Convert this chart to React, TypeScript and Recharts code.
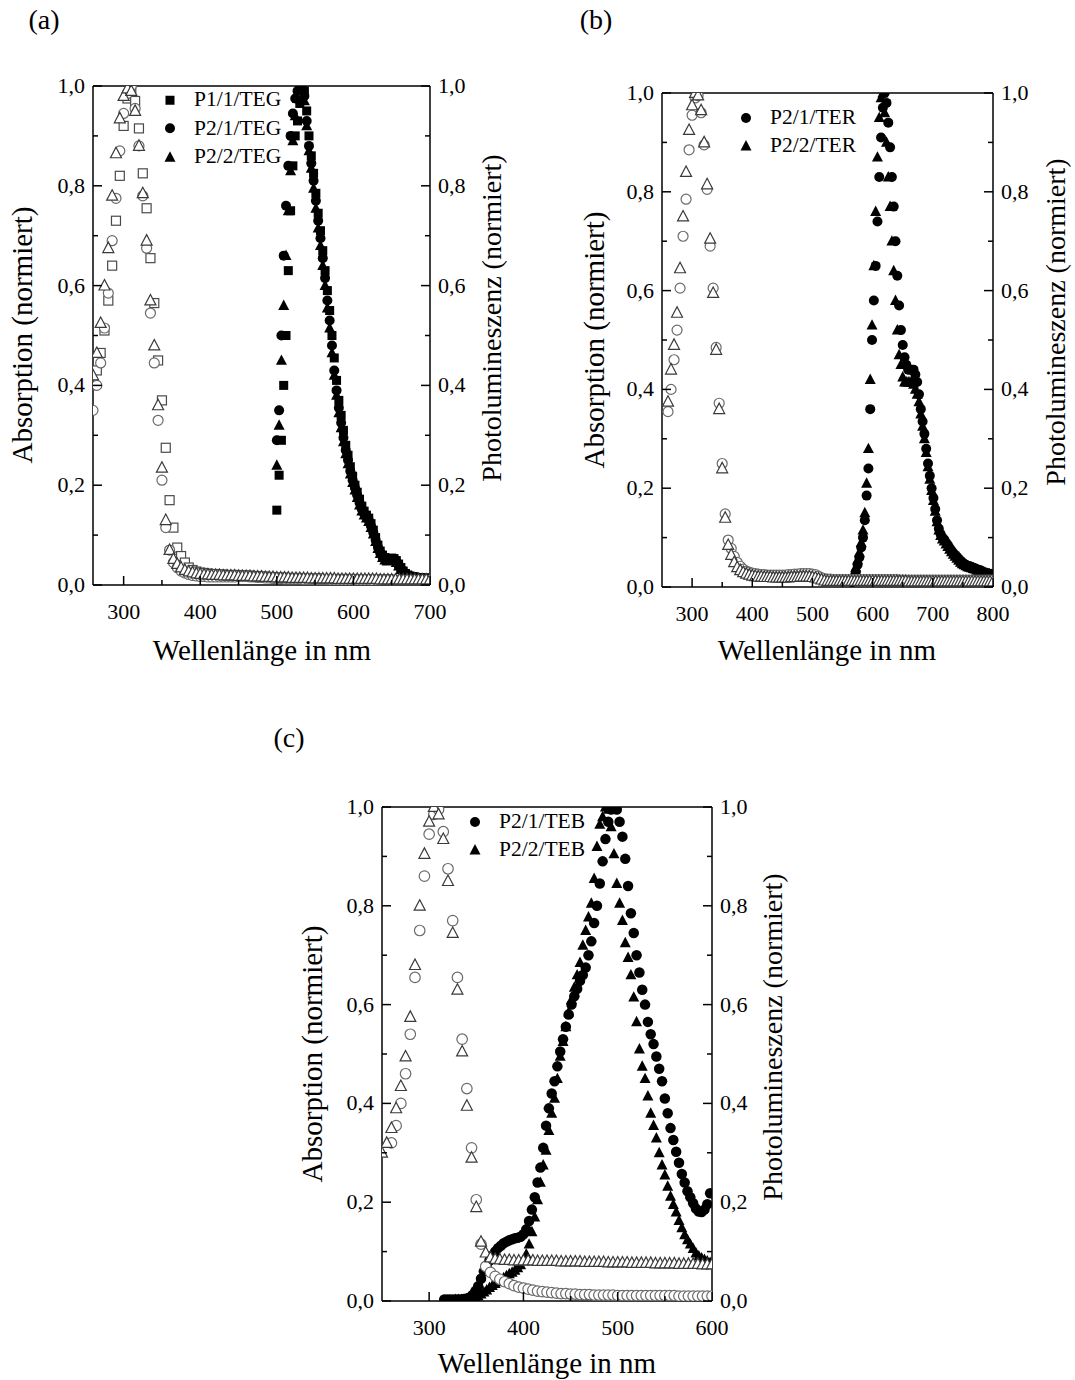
import React from 'react';
import { ScatterChart, Scatter, XAxis, YAxis, ReferenceLine, Legend } from 'recharts';

const SERIF = '"Liberation Serif", "Times New Roman", Times, serif';

// ---------------- DATA ----------------
const Y_TICKS = [0, 0.1, 0.2, 0.3, 0.4, 0.5, 0.6, 0.7, 0.8, 0.9, 1.0];
const A_X_TICKS = [300, 350, 400, 450, 500, 550, 600, 650, 700];
const B_X_TICKS = [300, 350, 400, 450, 500, 550, 600, 650, 700, 750, 800];
const C_X_TICKS = [300, 350, 400, 450, 500, 550, 600];

// Panel (a) absorption
const A_ABS_X = [260,265,270,275,280,285,290,295,300,305,310,315,320,325,330,335,340,345,350,355,360,365,370,375,380,385,390,395,400,405,410,415,420,425,430,435,440,445,450,455,460,465,470,475,480,485,490,495,500,505,510,515,520,525,530,535,540,545,550,555,560,565,570,575,580,585,590,595,600,605,610,615,620,625,630,635,640,645,650,655,660,665,670,675,680,685,690,695,700];
const A_ABS_P11 = [null,0.43,0.465,0.51,0.57,0.64,0.73,0.82,0.92,0.975,
0.995,0.97,0.915,0.825,0.755,0.655,0.565,0.45,0.37,0.275,
0.17,0.115,0.075,0.058,0.045,0.035,0.03,0.027,0.025,0.024,
0.023,0.022,0.022,0.021,0.021,0.02,0.02,0.02,0.02,0.019,
0.019,0.019,0.018,0.018,0.017,0.017,0.016,0.016,0.015,0.015,
0.015,0.014,0.014,0.014,0.014,0.013,0.013,0.013,0.013,0.013,
0.012,0.012,0.012,0.012,0.012,0.012,0.012,0.012,0.012,0.011,
0.011,0.011,0.011,0.011,0.011,0.011,0.011,0.011,0.011,0.01,
0.01,0.01,0.01,0.01,0.01,0.01,0.01,0.01,0.01];
const A_ABS_P21 = [0.35,0.40,0.445,0.515,0.585,0.69,0.775,0.87,0.945,0.985,
1.0,0.955,0.88,0.78,0.675,0.545,0.445,0.33,0.21,0.115,
0.07,0.045,0.035,0.028,0.024,0.021,0.019,0.018,0.017,0.017,
0.016,0.016,0.016,0.016,0.016,0.016,0.016,0.016,0.017,0.017,
0.017,0.016,0.016,0.015,0.015,0.014,0.014,0.013,0.013,0.013,
0.012,0.012,0.012,0.012,0.012,0.011,0.011,0.011,0.011,0.011,
0.011,0.011,0.01,0.01,0.01,0.01,0.01,0.01,0.01,0.01,
0.01,0.01,0.01,0.009,0.009,0.009,0.009,0.009,0.009,0.009,
0.009,0.009,0.009,0.009,0.009,0.009,0.009,0.009,0.009];
const A_ABS_P22 = [0.42,0.465,0.525,0.60,0.675,0.78,0.865,0.935,0.98,0.995,
0.99,0.95,0.88,0.785,0.69,0.57,0.48,0.36,0.235,0.13,
0.07,0.052,0.042,0.035,0.03,0.027,0.025,0.023,0.022,0.021,
0.021,0.02,0.02,0.02,0.019,0.019,0.019,0.019,0.018,0.018,
0.018,0.018,0.017,0.017,0.017,0.016,0.016,0.016,0.015,0.015,
0.015,0.015,0.014,0.014,0.014,0.014,0.014,0.013,0.013,0.013,
0.013,0.013,0.013,0.013,0.012,0.012,0.012,0.012,0.012,0.012,
0.012,0.012,0.012,0.012,0.012,0.011,0.011,0.011,0.011,0.011,
0.011,0.011,0.011,0.011,0.011,0.011,0.011,0.011,0.011];

// Panel (a) photoluminescence
const A_PL_X = [500,503,506,509,512,515,518,521,524,527,530,533,536,539,542,545,548,551,554,557,560,563,566,569,572,575,578,581,584,587,590,593,596,599,602,605,608,611,614,617,620,623,626,629,632,635,638,641,644,647,650,653,656,659,662,665,668,671,674,677,680,683,686,689,692,695,698];
const A_PL_P11 = [0.15,0.22,0.29,0.40,0.50,0.63,0.75,0.84,0.90,0.93,
0.965,1.0,0.99,0.95,0.90,0.86,0.825,0.785,0.745,0.71,
0.67,0.63,0.59,0.55,0.50,0.455,0.41,0.37,0.34,0.31,
0.28,0.26,0.237,0.218,0.2,0.186,0.172,0.158,0.148,0.14,
0.134,0.123,0.11,0.095,0.08,0.068,0.06,0.055,0.052,0.053,
0.054,0.053,0.049,0.042,0.035,0.028,0.023,0.02,0.018,0.017,
0.016,0.015,0.015,0.014,0.014,0.013,0.013];
const A_PL_P21 = [0.29,0.35,0.50,0.66,0.76,0.84,0.90,0.945,0.975,0.99,
1.0,0.99,0.98,0.93,0.88,0.845,0.81,0.77,0.73,0.695,
0.655,0.615,0.57,0.53,0.48,0.43,0.39,0.355,0.325,0.295,
0.27,0.25,0.228,0.21,0.195,0.18,0.165,0.152,0.143,0.137,
0.13,0.118,0.105,0.09,0.076,0.065,0.057,0.052,0.05,0.051,
0.052,0.051,0.047,0.04,0.033,0.027,0.022,0.019,0.017,0.016,
0.015,0.015,0.014,0.014,0.013,0.013,0.013];
const A_PL_P22 = [0.24,0.32,0.45,0.56,0.66,0.75,0.83,0.89,0.94,0.975,
0.995,1.0,0.97,0.92,0.87,0.835,0.795,0.755,0.715,0.68,
0.64,0.60,0.555,0.515,0.465,0.42,0.38,0.345,0.315,0.287,
0.263,0.243,0.222,0.205,0.19,0.175,0.16,0.148,0.14,0.134,
0.127,0.115,0.102,0.087,0.073,0.063,0.055,0.05,0.048,0.049,
0.05,0.049,0.045,0.038,0.031,0.025,0.021,0.018,0.016,0.015,
0.014,0.014,0.013,0.013,0.012,0.012,0.012];

// Panel (b) absorption
const B_ABS_X = [260,265,270,275,280,285,290,295,300,305,310,315,320,325,330,335,340,345,350,355,360,365,370,375,380,385,390,395,400,405,410,415,420,425,430,435,440,445,450,455,460,465,470,475,480,485,490,495,500,505,510,515,520,525,530,535,540,545,550,555,560,565,570,575,580,585,590,595,600,605,610,615,620,625,630,635,640,645,650,655,660,665,670,675,680,685,690,695,700,705,710,715,720,725,730,735,740,745,750,755,760,765,770,775,780,785,790,795,800];
const B_ABS_P21 = [0.355,0.40,0.46,0.52,0.605,0.71,0.785,0.885,0.955,0.99,
0.995,0.96,0.895,0.805,0.69,0.605,0.485,0.372,0.25,0.148,
0.095,0.078,0.062,0.05,0.042,0.036,0.032,0.03,0.028,0.027,
0.026,0.025,0.025,0.024,0.024,0.024,0.024,0.024,0.024,0.024,
0.025,0.025,0.026,0.026,0.027,0.027,0.027,0.027,0.026,0.025,
0.022,0.019,0.017,0.016,0.016,0.015,0.015,0.015,0.015,0.015,
0.015,0.015,0.015,0.015,0.015,0.015,0.015,0.015,0.015,0.015,
0.015,0.015,0.015,0.015,0.015,0.015,0.015,0.014,0.014,0.014,
0.014,0.014,0.014,0.014,0.014,0.014,0.014,0.014,0.014,0.014,
0.014,0.014,0.014,0.014,0.014,0.014,0.014,0.014,0.014,0.014,
0.014,0.014,0.014,0.014,0.014,0.014,0.014,0.014,0.014];
const B_ABS_P22 = [0.375,0.44,0.49,0.555,0.645,0.75,0.84,0.925,0.975,1.0,
0.995,0.965,0.90,0.815,0.705,0.595,0.48,0.36,0.24,0.14,
0.085,0.065,0.05,0.04,0.034,0.03,0.027,0.025,0.023,0.022,
0.021,0.021,0.02,0.02,0.02,0.019,0.019,0.019,0.019,0.019,
0.019,0.02,0.02,0.02,0.021,0.021,0.021,0.021,0.02,0.019,
0.017,0.015,0.013,0.012,0.012,0.012,0.012,0.012,0.012,0.012,
0.012,0.012,0.012,0.012,0.012,0.012,0.012,0.012,0.012,0.012,
0.012,0.012,0.012,0.012,0.012,0.012,0.012,0.012,0.012,0.012,
0.011,0.011,0.011,0.011,0.011,0.011,0.011,0.011,0.011,0.011,
0.011,0.011,0.011,0.011,0.011,0.011,0.011,0.011,0.011,0.011,
0.011,0.011,0.011,0.011,0.011,0.011,0.011,0.011,0.011];

// Panel (b) photoluminescence
const B_PL_X = [566,569,572,575,578,581,584,587,590,593,596,599,602,605,608,611,614,617,620,623,626,629,632,635,638,641,644,647,650,653,656,659,662,665,668,671,674,677,680,683,686,689,692,695,698,701,704,707,710,713,716,719,722,725,728,731,734,737,740,743,746,749,752,755,758,761,764,767,770,773,776,779,782,785,788,791,794,797,800];
const B_PL_P21 = [0.01,0.02,0.03,0.045,0.06,0.08,0.10,0.135,0.185,0.24,
0.36,0.50,0.58,0.65,0.74,0.83,0.91,0.97,1.0,0.98,
0.94,0.89,0.83,0.77,0.70,0.63,0.57,0.52,0.49,0.465,
0.45,0.44,0.44,0.44,0.44,0.43,0.415,0.39,0.36,0.335,
0.31,0.28,0.25,0.225,0.2,0.18,0.158,0.135,0.118,0.107,
0.1,0.096,0.09,0.085,0.079,0.074,0.069,0.065,0.061,0.057,
0.053,0.05,0.047,0.045,0.043,0.042,0.041,0.039,0.038,0.036,
0.035,0.034,0.032,0.03,0.029,0.028,0.027,0.026,0.025];
const B_PL_P22 = [0.015,0.025,0.04,0.055,0.07,0.09,0.115,0.15,0.21,0.28,
0.42,0.53,0.65,0.76,0.87,0.95,0.99,1.0,0.96,0.90,
0.83,0.77,0.70,0.64,0.58,0.52,0.47,0.45,0.425,0.415,
0.415,0.415,0.415,0.415,0.41,0.40,0.39,0.375,0.35,0.325,
0.30,0.272,0.243,0.218,0.195,0.175,0.153,0.132,0.115,0.104,
0.097,0.093,0.087,0.082,0.076,0.071,0.066,0.062,0.058,0.054,
0.05,0.047,0.045,0.043,0.041,0.04,0.039,0.037,0.036,0.034,
0.033,0.032,0.03,0.029,0.028,0.027,0.026,0.025,0.024];

// Panel (c) absorption
const C_ABS_X = [250,255,260,265,270,275,280,285,290,295,300,305,310,315,320,325,330,335,340,345,350,355,360,365,370,375,380,385,390,395,400,405,410,415,420,425,430,435,440,445,450,455,460,465,470,475,480,485,490,495,500,505,510,515,520,525,530,535,540,545,550,555,560,565,570,575,580,585,590,595,600];
const C_ABS_P21 = [null,null,0.32,0.355,0.40,0.46,0.54,0.655,0.75,0.86,
0.945,0.985,0.995,0.95,0.875,0.77,0.655,0.53,0.43,0.31,
0.205,0.115,0.07,0.058,0.05,0.044,0.039,0.035,0.031,0.028,
0.026,0.024,0.022,0.02,0.019,0.018,0.017,0.016,0.015,0.015,
0.014,0.014,0.013,0.013,0.013,0.012,0.012,0.012,0.012,0.012,
0.011,0.011,0.011,0.011,0.011,0.011,0.011,0.011,0.011,0.011,
0.011,0.011,0.011,0.01,0.01,0.01,0.01,0.01,0.01,0.01,
0.01];
const C_ABS_P22 = [0.30,0.32,0.35,0.39,0.435,0.495,0.575,0.68,0.80,0.905,
0.97,1.0,0.985,0.935,0.85,0.745,0.63,0.505,0.395,0.29,
0.19,0.12,0.098,0.088,0.085,0.084,0.083,0.083,0.082,0.082,
0.082,0.082,0.082,0.081,0.081,0.081,0.081,0.081,0.08,0.08,
0.08,0.08,0.08,0.079,0.079,0.079,0.079,0.079,0.078,0.078,
0.078,0.078,0.078,0.077,0.077,0.077,0.077,0.077,0.076,0.076,
0.076,0.076,0.076,0.075,0.075,0.075,0.075,0.075,0.074,0.074,
0.074];

// Panel (c) photoluminescence
const C_PL_X = [316,319,322,325,328,331,334,337,340,343,346,349,352,355,358,361,364,367,370,373,376,379,382,385,388,391,394,397,400,403,406,409,412,415,418,421,424,427,430,433,436,439,442,445,448,451,454,457,460,463,466,469,472,475,478,481,484,487,490,493,496,499,502,505,508,511,514,517,520,523,526,529,532,535,538,541,544,547,550,553,556,559,562,565,568,571,574,577,580,583,586,589,592,595,598];
const C_PL_P21 = [0.003,0.003,0.003,0.003,0.003,0.003,0.003,0.004,0.005,0.007,
0.012,0.02,0.03,0.045,0.06,0.072,0.082,0.092,0.1,0.107,
0.112,0.117,0.12,0.123,0.125,0.127,0.128,0.13,0.135,0.145,
0.162,0.185,0.21,0.24,0.27,0.31,0.355,0.39,0.42,0.445,
0.475,0.505,0.53,0.555,0.58,0.60,0.617,0.632,0.648,0.66,
0.675,0.70,0.728,0.765,0.80,0.845,0.89,0.935,0.97,0.995,
1.0,0.995,0.97,0.94,0.895,0.84,0.785,0.745,0.70,0.665,
0.63,0.60,0.565,0.54,0.52,0.495,0.47,0.445,0.41,0.38,
0.35,0.326,0.302,0.28,0.257,0.24,0.222,0.21,0.198,0.187,
0.181,0.18,0.185,0.196,0.218];
const C_PL_P22 = [null,null,null,null,0.003,0.003,0.003,0.003,0.003,0.004,
0.005,0.007,0.01,0.014,0.018,0.022,0.027,0.031,0.035,0.039,
0.043,0.047,0.051,0.055,0.058,0.062,0.067,0.073,0.082,0.095,
0.115,0.14,0.17,0.205,0.24,0.275,0.305,0.345,0.38,0.41,
0.45,0.495,0.525,0.555,0.585,0.61,0.635,0.66,0.685,0.72,
0.75,0.777,0.805,0.855,0.92,0.965,0.98,1.0,0.995,0.96,
0.905,0.845,0.805,0.77,0.725,0.695,0.66,0.615,0.565,0.51,
0.475,0.45,0.415,0.38,0.355,0.33,0.30,0.275,0.255,0.232,
0.212,0.195,0.18,0.163,0.148,0.134,0.124,0.115,0.106,0.097,
0.091,0.087,0.084,0.081,0.078];

// ---------------- RENDERING ----------------
type Kind = 'circle' | 'square' | 'triangle';
type SeriesDef = { xs: number[]; ys: (number | null)[]; kind: Kind; filled: boolean; color: string; size: number; axis: 'l' | 'r'; name: string };

const zip = (xs: number[], ys: (number | null)[]) =>
  xs.map((x, i) => ({ x, y: ys[i] })).filter((p) => p.y !== null && p.y !== undefined);

function markerEl(kind: Kind, filled: boolean, color: string, size: number, cx: number, cy: number) {
  const fill = filled ? color : '#ffffff';
  const sw = filled ? 0 : 1.2;
  if (kind === 'circle') return <circle cx={cx} cy={cy} r={size / 2} fill={fill} stroke={color} strokeWidth={sw} />;
  if (kind === 'square') {
    const h = size / 2;
    return <rect x={cx - h} y={cy - h} width={size} height={size} fill={fill} stroke={color} strokeWidth={sw} />;
  }
  const s = size;
  const pts = `${cx},${cy - s * 0.55} ${cx - s / 2},${cy + s * 0.4} ${cx + s / 2},${cy + s * 0.4}`;
  return <polygon points={pts} fill={fill} stroke={color} strokeWidth={sw} strokeLinejoin="miter" />;
}

const makeShape = (kind: Kind, filled: boolean, color: string, size: number) => (props: any) => {
  const { cx, cy } = props;
  if (cx == null || cy == null || isNaN(cx) || isNaN(cy)) return <g />;
  return markerEl(kind, filled, color, size, cx, cy);
};

const fmt = (v: number) => v.toFixed(1).replace('.', ',');
const TICK_FS = 22;

const XTick = (p: any) => {
  const { x, y, payload } = p;
  const v = payload.value as number;
  const major = v % 100 === 0;
  return (
    <g>
      <line x1={x} x2={x} y1={y} y2={y - (major ? 9 : 5)} stroke="#000" strokeWidth={1.5} />
      {major && (
        <text x={x} y={y + 34} textAnchor="middle" fontSize={TICK_FS} fontFamily={SERIF} fill="#000">{v}</text>
      )}
    </g>
  );
};
const YTickL = (p: any) => {
  const { x, y, payload } = p;
  const v = payload.value as number;
  const major = Math.round(v * 10) % 2 === 0;
  return (
    <g>
      <line x1={x} x2={x + (major ? 9 : 5)} y1={y} y2={y} stroke="#000" strokeWidth={1.5} />
      {major && (
        <text x={x - 8} y={y + 7} textAnchor="end" fontSize={TICK_FS} fontFamily={SERIF} fill="#000">{fmt(v)}</text>
      )}
    </g>
  );
};
const YTickR = (p: any) => {
  const { x, y, payload } = p;
  const v = payload.value as number;
  const major = Math.round(v * 10) % 2 === 0;
  return (
    <g>
      <line x1={x} x2={x - (major ? 9 : 5)} y1={y} y2={y} stroke="#000" strokeWidth={1.5} />
      {major && (
        <text x={x + 8} y={y + 7} textAnchor="start" fontSize={TICK_FS} fontFamily={SERIF} fill="#000">{fmt(v)}</text>
      )}
    </g>
  );
};

const YW = 70;
const XH = 60;
const MT = 30;

type LegendDef = { mx: number; my: number; rowH: number; items: { kind: Kind; label: string }[] };

const LegendBox = ({ def }: { def: LegendDef }) => (
  <div style={{ fontFamily: SERIF, fontSize: 21.5, color: '#000' }}>
    {def.items.map((it, i) => (
      <div key={i} style={{ display: 'flex', alignItems: 'center', height: def.rowH, whiteSpace: 'nowrap' }}>
        <svg width={36} height={def.rowH} style={{ display: 'block', flex: 'none' }}>
          {markerEl(it.kind, true, '#000', it.kind === 'square' ? 9 : it.kind === 'triangle' ? 11 : 10, 12, def.rowH / 2)}
        </svg>
        <span style={{ lineHeight: 1 }}>{it.label}</span>
      </div>
    ))}
  </div>
);

type PanelProps = {
  plotLeft: number; plotTop: number; plotW: number; plotH: number;
  domain: [number, number]; xticks: number[]; series: SeriesDef[]; legend: LegendDef;
};

function Panel({ plotLeft, plotTop, plotW, plotH, domain, xticks, series, legend }: PanelProps) {
  const W = YW + plotW + YW;
  const H = MT + plotH + XH;
  const divLeft = plotLeft - YW;
  const divTop = plotTop - MT;
  const axisLine = { stroke: '#000', strokeWidth: 1.5 };
  return (
    <div style={{ position: 'absolute', left: divLeft, top: divTop, width: W, height: H }}>
      <ScatterChart width={W} height={H} margin={{ top: MT, right: 0, bottom: 0, left: 0 }}>
        <XAxis type="number" dataKey="x" domain={domain} ticks={xticks} interval={0} allowDataOverflow
          tickSize={0} tickMargin={0} tickLine={false} axisLine={axisLine} tick={XTick} height={XH} />
        <YAxis yAxisId="l" type="number" dataKey="y" domain={[0, 1]} ticks={Y_TICKS} interval={0} allowDataOverflow
          tickSize={0} tickMargin={0} tickLine={false} axisLine={axisLine} tick={YTickL} width={YW} />
        <YAxis yAxisId="r" orientation="right" type="number" dataKey="y" domain={[0, 1]} ticks={Y_TICKS} interval={0} allowDataOverflow
          tickSize={0} tickMargin={0} tickLine={false} axisLine={axisLine} tick={YTickR} width={YW} />
        <ReferenceLine yAxisId="l" y={1} stroke="#000" strokeWidth={1.5} />
        {series.map((s, i) => (
          <Scatter key={i} name={s.name} yAxisId={s.axis} data={zip(s.xs, s.ys)}
            shape={makeShape(s.kind, s.filled, s.color, s.size)} isAnimationActive={false} />
        ))}
        <Legend layout="vertical" align="center" verticalAlign="middle"
          wrapperStyle={{ left: legend.mx - 12 - divLeft, top: legend.my - legend.rowH / 2 - divTop, width: 200, height: legend.rowH * legend.items.length }}
          content={() => <LegendBox def={legend} />} />
      </ScatterChart>
    </div>
  );
}

const Txt = ({ x, y, size, rot, children }: { x: number; y: number; size: number; rot?: boolean; children: React.ReactNode }) => (
  <div style={{
    position: 'absolute', left: x, top: y, transform: `translate(-50%, -50%)${rot ? ' rotate(-90deg)' : ''}`,
    fontSize: size, fontFamily: SERIF, whiteSpace: 'nowrap', lineHeight: 1, color: '#000',
  }}>{children}</div>
);

const OPEN_SQ = '#4a4a4a';
const OPEN_CI = '#6a6a6a';
const OPEN_TR = '#3a3a3a';

const seriesA: SeriesDef[] = [
  { name: 'P1/1/TEG PL', xs: A_PL_X, ys: A_PL_P11, kind: 'square', filled: true, color: '#000', size: 9, axis: 'r' },
  { name: 'P2/1/TEG PL', xs: A_PL_X, ys: A_PL_P21, kind: 'circle', filled: true, color: '#000', size: 10, axis: 'r' },
  { name: 'P2/2/TEG PL', xs: A_PL_X, ys: A_PL_P22, kind: 'triangle', filled: true, color: '#000', size: 11, axis: 'r' },
  { name: 'P1/1/TEG Abs', xs: A_ABS_X, ys: A_ABS_P11, kind: 'square', filled: false, color: OPEN_SQ, size: 9, axis: 'l' },
  { name: 'P2/1/TEG Abs', xs: A_ABS_X, ys: A_ABS_P21, kind: 'circle', filled: false, color: OPEN_CI, size: 10, axis: 'l' },
  { name: 'P2/2/TEG Abs', xs: A_ABS_X, ys: A_ABS_P22, kind: 'triangle', filled: false, color: OPEN_TR, size: 11, axis: 'l' },
];
const seriesB: SeriesDef[] = [
  { name: 'P2/1/TER PL', xs: B_PL_X, ys: B_PL_P21, kind: 'circle', filled: true, color: '#000', size: 10, axis: 'r' },
  { name: 'P2/2/TER PL', xs: B_PL_X, ys: B_PL_P22, kind: 'triangle', filled: true, color: '#000', size: 11, axis: 'r' },
  { name: 'P2/1/TER Abs', xs: B_ABS_X, ys: B_ABS_P21, kind: 'circle', filled: false, color: OPEN_CI, size: 10, axis: 'l' },
  { name: 'P2/2/TER Abs', xs: B_ABS_X, ys: B_ABS_P22, kind: 'triangle', filled: false, color: OPEN_TR, size: 11, axis: 'l' },
];
const seriesC: SeriesDef[] = [
  { name: 'P2/1/TEB PL', xs: C_PL_X, ys: C_PL_P21, kind: 'circle', filled: true, color: '#000', size: 10.5, axis: 'r' },
  { name: 'P2/2/TEB PL', xs: C_PL_X, ys: C_PL_P22, kind: 'triangle', filled: true, color: '#000', size: 11, axis: 'r' },
  { name: 'P2/1/TEB Abs', xs: C_ABS_X, ys: C_ABS_P21, kind: 'circle', filled: false, color: OPEN_CI, size: 10.5, axis: 'l' },
  { name: 'P2/2/TEB Abs', xs: C_ABS_X, ys: C_ABS_P22, kind: 'triangle', filled: false, color: OPEN_TR, size: 11, axis: 'l' },
];

export default function App() {
  return (
    <div style={{ position: 'absolute', left: 0, top: 0, width: 1075, height: 1380, background: '#fff', overflow: 'hidden' }}>
      <Txt x={44} y={20} size={28}>(a)</Txt>
      <Txt x={596} y={20} size={28}>(b)</Txt>
      <Txt x={289} y={738} size={28}>(c)</Txt>

      <Panel plotLeft={93} plotTop={86} plotW={337} plotH={499} domain={[260, 700]} xticks={A_X_TICKS} series={seriesA}
        legend={{ mx: 170, my: 100, rowH: 28.5, items: [
          { kind: 'square', label: 'P1/1/TEG' }, { kind: 'circle', label: 'P2/1/TEG' }, { kind: 'triangle', label: 'P2/2/TEG' }] }} />
      <Panel plotLeft={662} plotTop={93} plotW={331} plotH={494} domain={[250, 800]} xticks={B_X_TICKS} series={seriesB}
        legend={{ mx: 746, my: 118, rowH: 28, items: [
          { kind: 'circle', label: 'P2/1/TER' }, { kind: 'triangle', label: 'P2/2/TER' }] }} />
      <Panel plotLeft={382} plotTop={807} plotW={330} plotH={494} domain={[250, 600]} xticks={C_X_TICKS} series={seriesC}
        legend={{ mx: 475, my: 822, rowH: 28, items: [
          { kind: 'circle', label: 'P2/1/TEB' }, { kind: 'triangle', label: 'P2/2/TEB' }] }} />

      <Txt x={22} y={335} size={29} rot>Absorption (normiert)</Txt>
      <Txt x={492} y={318} size={28} rot>Photolumineszenz (normiert)</Txt>
      <Txt x={594} y={340} size={29} rot>Absorption (normiert)</Txt>
      <Txt x={1056} y={322} size={28} rot>Photolumineszenz (normiert)</Txt>
      <Txt x={312} y={1054} size={29} rot>Absorption (normiert)</Txt>
      <Txt x={773} y={1037} size={28} rot>Photolumineszenz (normiert)</Txt>

      <Txt x={262} y={650} size={29}>Wellenlänge in nm</Txt>
      <Txt x={827} y={650} size={29}>Wellenlänge in nm</Txt>
      <Txt x={547} y={1363} size={29}>Wellenlänge in nm</Txt>
    </div>
  );
}
